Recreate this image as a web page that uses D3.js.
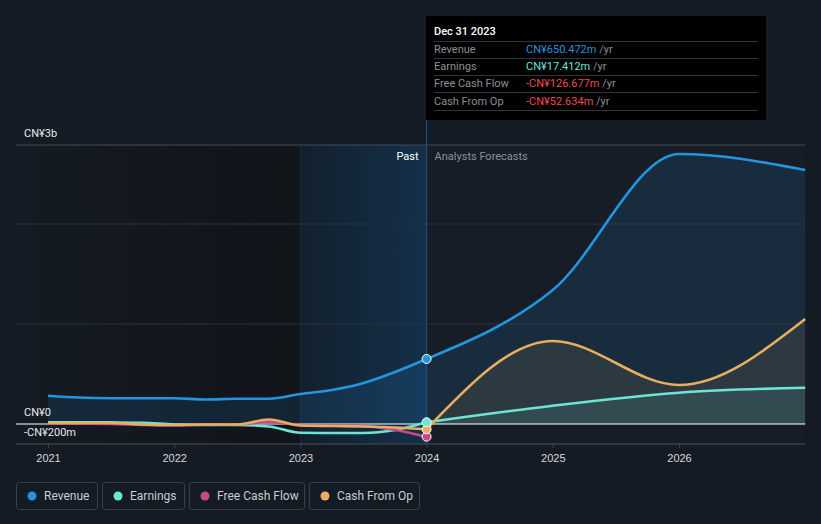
<!DOCTYPE html>
<html><head><meta charset="utf-8">
<script src="https://cdn.jsdelivr.net/npm/d3@7/dist/d3.min.js"></script>
<style>
html,body{margin:0;padding:0;background:#151b24;}
svg{display:block;font-family:Roboto,"Open Sans",Arial,sans-serif;}
</style></head><body>
<svg id="c" width="821" height="524"></svg>
<script>
// ---- data (CN¥ millions) ----
const histYears = [2021,2021.25,2021.5,2021.75,2022,2022.25,2022.5,2022.75,2023,2023.25,2023.5,2023.75,2024];
const revenueHist = [283,265,258,257,257,245,252,252,300,340,410,520,650.472];
const earningsHist = [18,18,16,12,-5,-10,-10,-25,-88,-90,-90,-60,17.412];
const fcfHist = [5,5,0,-10,-15,-5,-5,20,-10,-15,-20,-60,-126.677];
const cfoHist = [10,10,10,-5,-10,-5,-5,45,-15,-20,-25,-35,-52.634];
const foreYears = [2024,2025,2026,2027];
const revenueFore = [650.472,1340,2700,2540];
const earningsFore = [17.412,183,313,363];
const cfoFore = [-52.634,830,390,1050];
const xTicks = [2021,2022,2023,2024,2025,2026];
const yLabels = [{v:2790,t:"CN¥3b"},{v:0,t:"CN¥0"},{v:-200,t:"-CN¥200m"}];
const legendItems = ["Revenue","Earnings","Free Cash Flow","Cash From Op"];
const colors = {"Revenue":"#2394df","Earnings":"#6ce5d5","Free Cash Flow":"#c9478a","Cash From Op":"#e8ae5f"};
const tipRows = [
  {k:"Revenue",v:"CN¥650.472m",c:"#2394df"},
  {k:"Earnings",v:"CN¥17.412m",c:"#6ce5d5"},
  {k:"Free Cash Flow",v:"-CN¥126.677m",c:"#f04b4b"},
  {k:"Cash From Op",v:"-CN¥52.634m",c:"#f04b4b"}];

const svg = d3.select("#c");
const x = d3.scaleLinear().domain([2021,2027]).range([48,805.2]);
const y = d3.scaleLinear().domain([-200,2790]).range([444,145]);
const L = 16, R = x(2027), T = y(2790), B = y(-200);
const defs = svg.append("defs");

// backgrounds
const g1 = defs.append("linearGradient").attr("id","gPast").attr("x1",0).attr("x2",1);
g1.append("stop").attr("offset",0).attr("stop-color","#151b24");
g1.append("stop").attr("offset",1).attr("stop-color","#111419");
const g2 = defs.append("linearGradient").attr("id","gHi").attr("x1",0).attr("x2",1);
g2.append("stop").attr("offset",0).attr("stop-color","#12202e");
g2.append("stop").attr("offset",1).attr("stop-color","#14304a");
svg.append("rect").attr("x",L).attr("y",T).attr("width",x(2023)-L).attr("height",B-T).attr("fill","url(#gPast)");
svg.append("rect").attr("x",x(2023)).attr("y",T).attr("width",x(2024)-x(2023)).attr("height",B-T).attr("fill","url(#gHi)");
svg.append("rect").attr("x",x(2024)).attr("y",T).attr("width",R-x(2024)).attr("height",B-T).attr("fill","#161d27");

// gridlines
[1000,2000].forEach(v=>svg.append("line").attr("x1",L).attr("x2",R).attr("y1",y(v)).attr("y2",y(v)).attr("stroke","#2b323b").attr("stroke-width",1));
svg.append("line").attr("x1",L).attr("x2",R).attr("y1",T).attr("y2",T).attr("stroke","#474c54");
svg.append("line").attr("x1",x(2023)).attr("x2",x(2023)).attr("y1",T).attr("y2",B).attr("stroke","#1b2b3a");

// series
const pts = (xs,vs)=>xs.map((d,i)=>[d,vs[i]]);
const line = d3.line().x(d=>x(d[0])).y(d=>y(d[1])).curve(d3.curveMonotoneX);
const area = d3.area().x(d=>x(d[0])).y0(y(0)).y1(d=>y(d[1])).curve(d3.curveMonotoneX);

svg.append("path").attr("d",area(pts(histYears,revenueHist))).attr("fill","#2394df").attr("fill-opacity",0.13);
svg.append("path").attr("d",area(pts(foreYears,revenueFore))).attr("fill","#2394df").attr("fill-opacity",0.13);
svg.append("path").attr("d",area(pts(foreYears,cfoFore))).attr("fill","#e8ae5f").attr("fill-opacity",0.1);
svg.append("path").attr("d",area(pts(foreYears,earningsFore))).attr("fill","#6ce5d5").attr("fill-opacity",0.1);

// zero line & axis
svg.append("line").attr("x1",L).attr("x2",R).attr("y1",y(0)).attr("y2",y(0)).attr("stroke","#ffffff").attr("stroke-width",1.2);
svg.append("line").attr("x1",L).attr("x2",R).attr("y1",B).attr("y2",B).attr("stroke","#3a4048").attr("stroke-width",1.5);

const lw = 2.6;
svg.append("path").attr("d",line(pts(histYears,earningsHist))).attr("fill","none").attr("stroke",colors["Earnings"]).attr("stroke-width",lw);
svg.append("path").attr("d",line(pts(histYears,fcfHist))).attr("fill","none").attr("stroke",colors["Free Cash Flow"]).attr("stroke-width",lw);
svg.append("path").attr("d",line(pts(histYears,cfoHist))).attr("fill","none").attr("stroke",colors["Cash From Op"]).attr("stroke-width",lw);
svg.append("path").attr("d",line(pts(histYears,revenueHist))).attr("fill","none").attr("stroke",colors["Revenue"]).attr("stroke-width",lw);
svg.append("path").attr("d",line(pts(foreYears,earningsFore))).attr("fill","none").attr("stroke",colors["Earnings"]).attr("stroke-width",lw);
svg.append("path").attr("d",line(pts(foreYears,cfoFore))).attr("fill","none").attr("stroke",colors["Cash From Op"]).attr("stroke-width",lw);
svg.append("path").attr("d",line(pts(foreYears,revenueFore))).attr("fill","none").attr("stroke",colors["Revenue"]).attr("stroke-width",lw);

// x axis
const xa = svg.append("g").attr("transform",`translate(0,${B})`)
  .call(d3.axisBottom(x).tickValues(xTicks).tickFormat(d3.format("d")).tickSize(4).tickPadding(6));
xa.select(".domain").remove();
xa.selectAll("line").attr("stroke","#3a4048");
xa.selectAll("text").attr("fill","#d4d7db").attr("font-size",11);

// y labels
yLabels.forEach(d=>svg.append("text").attr("x",24).attr("y",y(d.v)-8).attr("fill","#e6e8ea").attr("font-size",11).text(d.t));

// past / forecast labels
svg.append("text").attr("x",x(2024)-8).attr("y",160).attr("text-anchor","end").attr("fill","#ffffff").attr("font-size",11).text("Past");
svg.append("text").attr("x",x(2024)+8).attr("y",160).attr("fill","#8b9096").attr("font-size",11).text("Analysts Forecasts");

// vertical marker
svg.append("line").attr("x1",x(2024)).attr("x2",x(2024)).attr("y1",120).attr("y2",B).attr("stroke","#1e4c70").attr("stroke-width",1.2);

// dots
[[fcfHist,"Free Cash Flow"],[cfoHist,"Cash From Op"],[earningsHist,"Earnings"],[revenueHist,"Revenue"]].forEach(([arr,k])=>{
  svg.append("circle").attr("cx",x(2024)).attr("cy",y(arr[arr.length-1])).attr("r",4.5).attr("fill",colors[k]).attr("stroke","#ffffff").attr("stroke-width",1);
});

// tooltip
svg.append("rect").attr("x",426).attr("y",16).attr("width",340).attr("height",104).attr("fill","#000000");
svg.append("text").attr("x",434).attr("y",35).attr("fill","#ffffff").attr("font-size",11).attr("font-weight",500).text("Dec 31 2023");
[41.5,58.5,75.5,92.5,110.5].forEach(v=>svg.append("line").attr("x1",434).attr("x2",758).attr("y1",v).attr("y2",v).attr("stroke","#333333"));
tipRows.forEach((r,i)=>{
  const yy = 53+i*17.2;
  svg.append("text").attr("x",434).attr("y",yy).attr("fill","#8b8f94").attr("font-size",11).text(r.k);
  const t = svg.append("text").attr("x",526).attr("y",yy).attr("font-size",11);
  t.append("tspan").attr("fill",r.c).text(r.v);
  t.append("tspan").attr("fill","#8b8f94").text(" /yr");
});

// legend
const boxes = [[16,81],[102,82],[189,115],[309,110]];
legendItems.forEach((k,i)=>{
  const [bx,bw] = boxes[i];
  svg.append("rect").attr("x",bx+0.5).attr("y",482.5).attr("width",bw).attr("height",27).attr("rx",3).attr("fill","none").attr("stroke","#3a3f48");
  svg.append("circle").attr("cx",bx+16).attr("cy",496).attr("r",4.5).attr("fill",colors[k]);
  svg.append("text").attr("x",bx+28).attr("y",500).attr("fill","#c9ccd0").attr("font-size",12).text(k);
});
</script></body></html>
